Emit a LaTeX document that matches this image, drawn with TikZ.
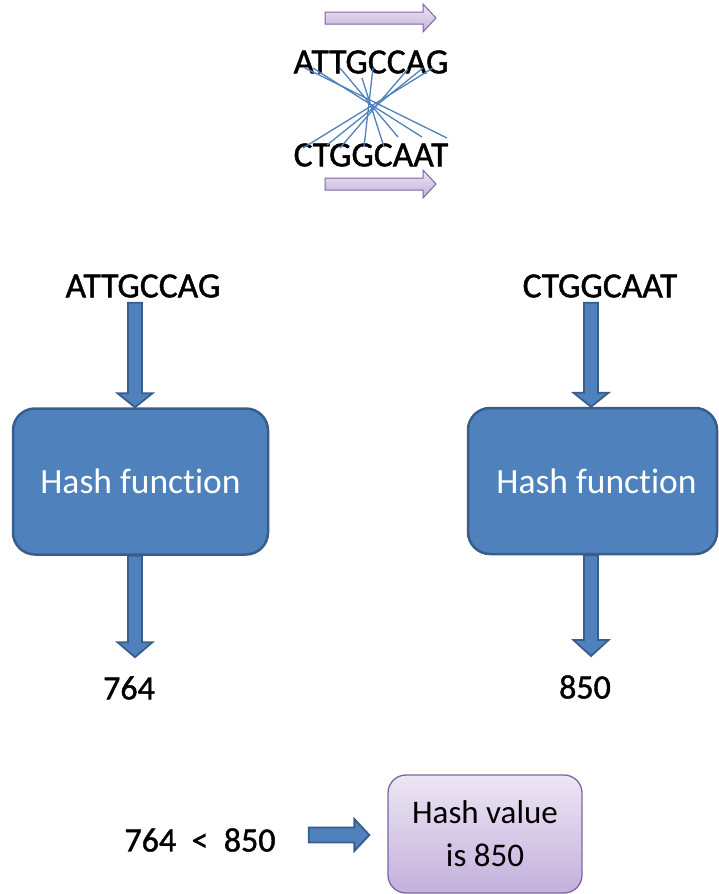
\documentclass[tikz,border=0pt]{standalone}
\usepackage{fontspec}
\setmainfont{Carlito}[Ligatures=NoCommon]
\newfontfamily\heavyfont{Carlito}[FakeBold=1.2,Ligatures=NoCommon]
\usetikzlibrary{calc}

\definecolor{hashblue}{HTML}{4F81BD}
\definecolor{hashedge}{HTML}{385D8A}
\definecolor{lavtop}{RGB}{236,230,244}
\definecolor{lavbot}{RGB}{196,176,220}
\definecolor{lavedge}{RGB}{128,100,162}

\tikzset{
  seq/.style={font=\heavyfont\fontsize{35.5}{40}\selectfont, inner xsep=0pt, inner ysep=5pt},
  numlabel/.style={font=\heavyfont\fontsize{34}{40}\selectfont, inner xsep=0pt, inner ysep=19pt},
  hashbox/.style={draw=hashedge, line width=2.5pt, fill=hashblue, rounded corners=22pt,
    text=white, font=\fontsize{35.5}{40}\selectfont, minimum height=146pt},
  resultbox/.style={draw=lavedge, line width=1.3pt, top color=lavtop, bottom color=lavbot,
    rounded corners=18pt, minimum width=194pt, minimum height=118pt,
    align=center, font=\fontsize{33}{43}\selectfont},
  fatblue/.style={draw=hashedge, line width=1.8pt, fill=hashblue, line join=miter},
  fatlav/.style={draw=lavedge, line width=1pt, top color=lavtop, bottom color=lavbot},
  pairline/.style={draw=hashblue, line width=1.3pt},
}

% block arrow from #2 to #3: shaft half width #4, head half width #5, head length #6
\newcommand\blockarrow[6]{%
  \coordinate (fa-s) at (#2);
  \coordinate (fa-t) at (#3);
  \coordinate (fa-h) at ($(fa-t)!#6!(fa-s)$);
  \path[#1] ($(fa-s)!#4!90:(fa-t)$) -- ($(fa-h)!#4!90:(fa-t)$)
    -- ($(fa-h)!#5!90:(fa-t)$) -- (fa-t) -- ($(fa-h)!#5!-90:(fa-t)$)
    -- ($(fa-h)!#4!-90:(fa-t)$) -- ($(fa-s)!#4!-90:(fa-t)$) -- cycle;
}

\begin{document}
\begin{tikzpicture}[x=1pt,y=-1pt]
\useasboundingbox (0,0) rectangle (718,894);

% reverse complement pairing
\node[seq, inner ysep=0pt] (s1) at (371,62) {ATTGCCAG};
\node[seq, inner ysep=0pt] (s2) at (371,155) {CTGGCAAT};
\coordinate (dirA1) at (325,18);  \coordinate (dirA2) at (436,18);
\coordinate (dirB1) at (325,184); \coordinate (dirB2) at (436,184);
\blockarrow{fatlav}{dirA1}{dirA2}{6pt}{14pt}{13pt}
\blockarrow{fatlav}{dirB1}{dirB2}{6pt}{14pt}{13pt}

\foreach \xa/\ya/\xb/\yb in {303/67/447/138, 313/68/422/137, 340/68/398/137,
    362/78/384/147, 373/68/364/147, 408/69/340/148, 423/68/327/145, 433/68/303/148}
  \draw[pairline] (\xa,\ya) -- (\xb,\yb);

% two hashing pipelines
\node[seq] (lt) at (143,286) {ATTGCCAG};
\node[seq] (rt) at (600,286) {CTGGCAAT};
\node[hashbox, minimum width=255pt] (lbox) at (140.5,481.5) {Hash function};
\node[hashbox, minimum width=249pt] (rbox) at (592.5,481) {\hspace{8pt}Hash function};
\node[numlabel] (lv) at (129,688) {764};
\node[numlabel] (rv) at (585,687) {850};
\coordinate (lax) at (135,0);
\coordinate (rax) at (591,0);

\blockarrow{fatblue}{lt.south -| lax}{lbox.north -| lax}{7pt}{17.5pt}{14pt}
\blockarrow{fatblue}{lbox.south -| lax}{lv.north -| lax}{7pt}{17.5pt}{15pt}
\blockarrow{fatblue}{rt.south -| rax}{rbox.north -| rax}{7pt}{17.5pt}{14pt}
\blockarrow{fatblue}{rbox.south -| rax}{rv.north -| rax}{7pt}{17.5pt}{16pt}

% comparison
\node[font=\heavyfont\fontsize{34}{40}\selectfont, inner sep=0pt] (cmp) at (200,840) {764\ \ <\ \ 850};
\node[resultbox] (hv) at (485,834) {Hash value\\is 850};
\blockarrow{fatblue}{$(cmp.east |- hv.west)+(33,1)$}{$(hv.west)+(-18,1)$}{7.5pt}{16pt}{15pt}
\end{tikzpicture}
\end{document}
